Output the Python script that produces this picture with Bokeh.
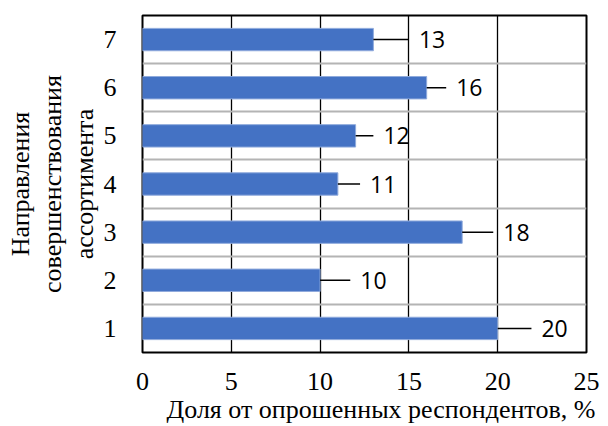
from bokeh.plotting import figure
from bokeh.models import Range1d, FixedTicker, Title, ColumnDataSource
from bokeh.core.properties import value
from bokeh.embed import file_html
from bokeh.resources import INLINE

# Survey shares by improvement direction (category number -> percent)
categories = [1, 2, 3, 4, 5, 6, 7]
shares = [20, 10, 18, 11, 12, 16, 13]
# extent of the black line drawn to the right of each bar (percent units)
err = [1.9, 1.7, 1.75, 1.25, 1.0, 1.1, 2.0]
x_ticks = [0, 5, 10, 15, 20, 25]

x_title = "Доля от опрошенных респондентов, %"
y_title = "Направления\nсовершенствования\nассортимента"

src = ColumnDataSource(dict(
    y=categories,
    v=shares,
    e=[s + d for s, d in zip(shares, err)],
    lbl=[str(s) for s in shares],
))

p = figure(width=608, height=426, output_backend="svg", toolbar_location=None,
           x_range=Range1d(0, 25), y_range=Range1d(0.5, 7.5),
           min_border_left=142, min_border_right=22, min_border_top=15,
           min_border_bottom=74)

p.background_fill_color = "white"
p.border_fill_color = "white"
p.outline_line_color = "black"
p.outline_line_width = 2

# bars
p.hbar(y="y", right="v", left=0, height=0.465, source=src,
       fill_color="#4472C4", line_color="#8FAADC", line_width=1)

# lines from bar end
p.segment(x0="v", y0="y", x1="e", y1="y", source=src,
          line_color="black", line_width=1.5)

# value labels
p.text(x="e", y="y", text="lbl", source=src, x_offset=10,
       text_baseline="middle", text_align="left",
       text_font=value("Open Sans"), text_font_size="23px", text_color="black")

# grids
p.xgrid.ticker = FixedTicker(ticks=[5, 10, 15, 20])
p.xgrid.grid_line_color = "black"
p.xgrid.grid_line_width = 1.3
p.ygrid.ticker = FixedTicker(ticks=[1.5, 2.5, 3.5, 4.5, 5.5, 6.5])
p.ygrid.grid_line_color = "#B4B4B4"
p.ygrid.grid_line_width = 2

# axes
for ax in (p.xaxis[0], p.yaxis[0]):
    ax.axis_line_color = None
    ax.major_tick_line_color = None
    ax.minor_tick_line_color = None
    ax.major_label_text_font = "Liberation Serif"
    ax.major_label_text_font_size = "26px"
    ax.major_label_text_color = "black"

p.xaxis.ticker = FixedTicker(ticks=x_ticks)
p.xaxis.major_label_standoff = 14
p.yaxis.ticker = FixedTicker(ticks=categories)
p.yaxis.major_label_standoff = 20

p.yaxis.axis_label = y_title
p.yaxis.axis_label_text_font = "Liberation Serif"
p.yaxis.axis_label_text_font_style = "normal"
p.yaxis.axis_label_text_font_size = "26px"
p.yaxis.axis_label_text_color = "black"
p.yaxis.axis_label_text_line_height = 1.1
p.yaxis.axis_label_standoff = 2

xt = Title(text=x_title, align="left", offset=24, standoff=0,
           text_font="Liberation Serif", text_font_size="26px",
           text_font_style="normal", text_color="black", text_line_height=1.0)
p.add_layout(xt, "below")

open("out.html", "w").write(file_html(p, INLINE))
